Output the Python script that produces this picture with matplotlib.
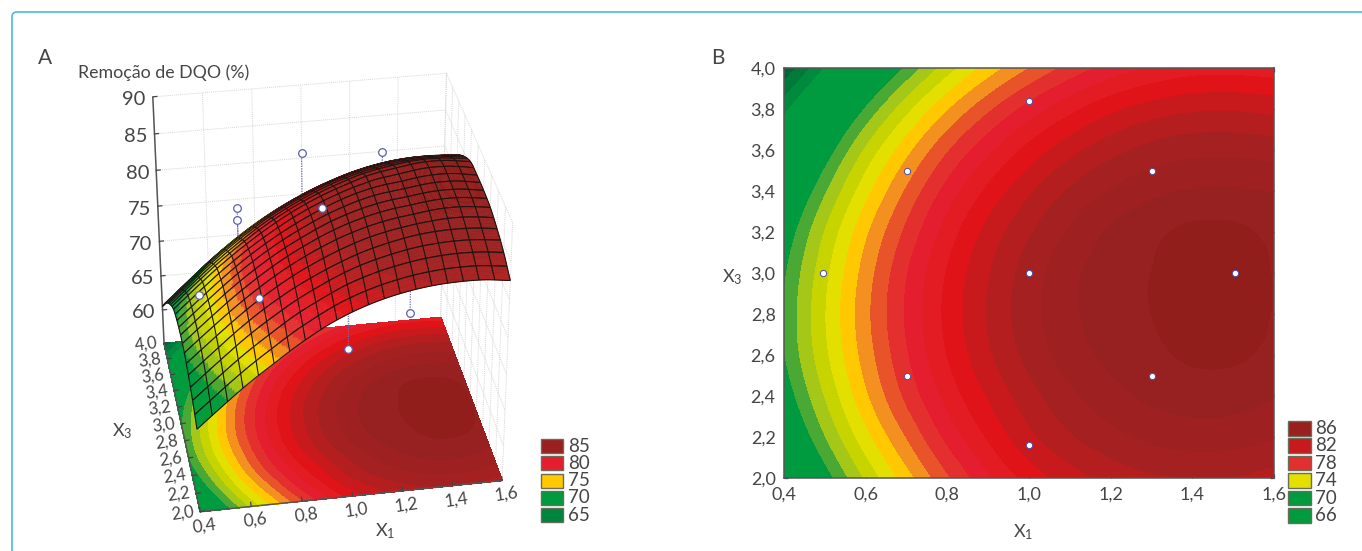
import numpy as np
import matplotlib
matplotlib.use("Agg")
import matplotlib.pyplot as plt
import matplotlib.tri as mtri
from matplotlib.collections import PolyCollection, LineCollection
from matplotlib.patches import Rectangle, FancyBboxPatch

plt.rcParams['font.family'] = ['Lato', 'DejaVu Sans']
plt.rcParams['mathtext.default'] = 'regular'
TXT = '#454545'

# ---- data -----------------------------------------------------------------
x1_values = [0.4, 0.5, 0.6, 0.7, 0.8, 0.9, 1.0, 1.1, 1.2, 1.3, 1.4, 1.5, 1.6]
x3_values = [2.0, 2.2, 2.4, 2.6, 2.8, 3.0, 3.2, 3.4, 3.6, 3.8, 4.0]
z_x3_20 = [66.6, 69.4, 72.1, 74.5, 76.8, 78.8, 80.35, 81.5, 82.3, 82.8, 83.0, 82.95, 82.55]
z_x3_22 = [68.1, 70.9, 73.6, 76.0, 78.25, 80.1, 81.7, 82.85, 83.65, 84.2, 84.45, 84.4, 84.05]
z_x3_24 = [69.2, 72.0, 74.75, 77.2, 79.3, 81.05, 82.55, 83.75, 84.6, 85.2, 85.45, 85.4, 85.05]
z_x3_26 = [69.9, 72.7, 75.4, 77.85, 80.0, 81.8, 83.3, 84.45, 85.25, 85.75, 86.15, 86.15, 85.75]
z_x3_28 = [70.05, 72.9, 75.65, 78.1, 80.25, 82.05, 83.6, 84.75, 85.55, 86.0, 86.4, 86.4, 85.95]
z_x3_30 = [69.8, 72.65, 75.4, 77.9, 80.05, 81.9, 83.45, 84.7, 85.55, 86.0, 86.45, 86.45, 85.95]
z_x3_32 = [69.1, 72.0, 74.75, 77.2, 79.4, 81.3, 82.85, 84.1, 85.15, 85.75, 86.2, 86.2, 85.75]
z_x3_34 = [67.9, 70.8, 73.6, 76.1, 78.35, 80.2, 81.8, 83.1, 84.05, 84.7, 85.05, 85.1, 84.9]
z_x3_36 = [66.3, 69.2, 72.1, 74.6, 76.85, 78.7, 80.3, 81.6, 82.6, 83.3, 83.65, 83.7, 83.5]
z_x3_38 = [64.3, 67.2, 70.05, 72.6, 74.85, 76.75, 78.35, 79.65, 80.7, 81.4, 81.8, 81.85, 81.65]
z_x3_40 = [61.8, 64.7, 67.6, 70.15, 72.45, 74.35, 75.95, 77.3, 78.35, 79.05, 79.5, 79.55, 79.4]
# panel A's surface sits slightly lower than the table towards the back
surface_a_shift = [0, 0, 0, 0, 0, 0, 0, -0.4, -0.8, -1.1, -1.3]

band_levels = [62.7, 63.7, 64.7, 70, 71, 72, 73, 74, 75, 76, 77, 78, 79, 80, 81, 82, 83, 84, 85, 86]
band_colors = ['#006837', '#007a3a', '#008a3d', '#009b3e', '#4aa835', '#a5c818', '#c8d400', '#e3e000',
               '#ffc800', '#f39020', '#e9532a', '#e42f2f', '#e41e2e', '#e31b23', '#e01318', '#c8191c',
               '#b51e1e', '#a52020', '#9e2020', '#972020', '#921e1c']

design_x1 = [0.495, 0.7, 0.7, 1.0, 1.0, 1.0, 1.3, 1.3, 1.505]
design_x3 = [3.0, 3.5, 2.5, 3.84, 3.0, 2.16, 3.5, 2.5, 3.0]

pts_above_x1 = [0.69, 0.69, 0.985, 1.28, 0.985, 0.49, 0.69]
pts_above_x3 = [3.5, 3.5, 3.84, 3.5, 3.0, 3.0, 2.5]
pts_above_z = [79.0, 77.4, 82.3, 85.0, 83.4, 73.0, 77.6]
pts_below_x1 = [1.28, 1.0]
pts_below_x3 = [2.5, 2.16]
pts_below_z = [73.7, 73.5]

ticks_x1 = [0.4, 0.6, 0.8, 1.0, 1.2, 1.4, 1.6]
labels_x1 = ['0,4', '0,6', '0,8', '1,0', '1,2', '1,4', '1,6']
ticks_x3 = [2.0, 2.2, 2.4, 2.6, 2.8, 3.0, 3.2, 3.4, 3.6, 3.8, 4.0]
labels_x3 = ['2,0', '2,2', '2,4', '2,6', '2,8', '3,0', '3,2', '3,4', '3,6', '3,8', '4,0']
ticks_z = [60, 65, 70, 75, 80, 85, 90]
legend_a = ['85', '80', '75', '70', '65']
legend_a_colors = ['#9a1f1f', '#e41e2e', '#ffc800', '#009b3e', '#00853f']
legend_b = ['86', '82', '78', '74', '70', '66']
legend_b_colors = ['#9a1f1f', '#c8191c', '#e42f2f', '#e3e000', '#009b3e', '#009b3e']

# ---- projection of panel A, calibrated on the box corners ------------------
Z_FLOOR, Z_TOP = 55.0, 90.0
calib_data = [(0.4, 2, Z_FLOOR), (1.6, 2, Z_FLOOR), (1.6, 4, Z_FLOOR), (0.4, 4, Z_FLOOR),
              (0.4, 4, Z_TOP), (1.6, 4, Z_TOP), (1.6, 2, Z_TOP)]
calib_px = [(200, 512), (502, 480), (441, 318), (164, 343), (153, 97), (446, 73), (513, 223)]
A_rows = []
for (a, b, c), (u, v) in zip(calib_data, calib_px):
    A_rows.append([a, b, c, 1, 0, 0, 0, 0, -u * a, -u * b, -u * c, -u])
    A_rows.append([0, 0, 0, 0, a, b, c, 1, -v * a, -v * b, -v * c, -v])
P = np.linalg.svd(np.array(A_rows, float))[2][-1].reshape(3, 4)


def proj(a, b, c):
    a, b, c = np.asarray(a, float), np.asarray(b, float), np.asarray(c, float)
    w = P[2, 0] * a + P[2, 1] * b + P[2, 2] * c + P[2, 3]
    return (P[0, 0] * a + P[0, 1] * b + P[0, 2] * c + P[0, 3]) / w, (P[1, 0] * a + P[1, 1] * b + P[1, 2] * c + P[1, 3]) / w


x1 = np.array(x1_values)
x3 = np.array(x3_values)
Z = np.array([z_x3_20, z_x3_22, z_x3_24, z_x3_26, z_x3_28, z_x3_30, z_x3_32, z_x3_34, z_x3_36, z_x3_38, z_x3_40])
GX, GY = np.meshgrid(x1, x3)
tri = mtri.Triangulation(GX.ravel(), GY.ravel())
table = mtri.CubicTriInterpolator(tri, Z.ravel(), kind='geom')
table_a = mtri.CubicTriInterpolator(tri, (Z + np.array(surface_a_shift)[:, None]).ravel(), kind='geom')
plot_levels = [50] + band_levels + [95]

# fine evaluation of the table, only so that the bands are drawn smoothly
FU, FV = np.meshgrid(np.linspace(0.4, 1.6, 241), np.linspace(2.0, 4.0, 201))
FZ = np.asarray(table(FU, FV).filled(np.nan))


def filled(ax, X, Y, C, zorder=2):
    cs = ax.contourf(X, Y, C, levels=plot_levels, colors=band_colors, zorder=zorder)
    cs.set_edgecolor('face')
    cs.set_linewidth(0.5)
    return cs


fig = plt.figure(figsize=(13.62, 5.51), dpi=100)
ov = fig.add_axes([0, 0, 1, 1])
ov.set_xlim(0, 1362)
ov.set_ylim(551, 0)
ov.axis('off')

# frame of the figure
ov.add_patch(FancyBboxPatch((12, 12), 1400, 600, boxstyle='round,pad=0,rounding_size=5', fill=False,
                            ec='#4fb8dc', lw=1.2, zorder=0))

# ---- panel A ---------------------------------------------------------------
wall_kw = dict(color='#d6d6d6', lw=0.7, ls=(0, (1, 1)), zorder=1)
for t in ticks_x1:
    ov.plot(*proj([t, t], [4, 4], [Z_FLOOR, Z_TOP]), **wall_kw)
for z in ticks_z:
    ov.plot(*proj([0.4, 1.6], [4, 4], [z, z]), **wall_kw)
    ov.plot(*proj([1.6, 1.6], [4, 2], [z, z]), **wall_kw)
for t in ticks_x3:
    ov.plot(*proj([1.6, 1.6], [t, t], [Z_FLOOR, Z_TOP]), **wall_kw)

# floor contours
FX, FY = proj(FU, FV, np.full_like(FU, Z_FLOOR))
filled(ov, FX, FY, FZ)

# stems (behind the surface)
stem_kw = dict(color='#6a6db5', lw=0.9, ls=(0, (1, 1)), zorder=3)
for a, b, c in zip(pts_above_x1 + pts_below_x1, pts_above_x3 + pts_below_x3, pts_above_z + pts_below_z):
    ov.plot(*proj([a, a], [b, b], [c, float(table_a(a, b))]), **stem_kw)
mk = dict(ls='none', marker='o', mfc='white', mec='#5a5fb0', ms=5.5, mew=0.9)
ov.plot(*proj(pts_below_x1, pts_below_x3, pts_below_z), zorder=4, **mk)

# surface, painted from the far strip to the near one
N_CELLS, SUB = 20, 8
u_f = np.linspace(0.4, 1.6, N_CELLS * SUB + 1)
v_f = np.linspace(2.0, 4.0, N_CELLS * SUB + 1)
UU, VV = np.meshgrid(u_f, v_f)
ZZ = np.asarray(table_a(UU, VV).filled(np.nan))
SX, SY = proj(UU, VV, ZZ)
centre = (ZZ[:-1, :-1] + ZZ[1:, :-1] + ZZ[:-1, 1:] + ZZ[1:, 1:]) / 4
idx = np.digitize(centre, band_levels)
zo = 10
for strip in range(N_CELLS - 1, -1, -1):
    polys, cols = [], []
    for r in range((strip + 1) * SUB - 1, strip * SUB - 1, -1):
        for c in range(N_CELLS * SUB):
            polys.append([(SX[r, c], SY[r, c]), (SX[r, c + 1], SY[r, c + 1]),
                          (SX[r + 1, c + 1], SY[r + 1, c + 1]), (SX[r + 1, c], SY[r + 1, c])])
            cols.append(band_colors[idx[r, c]])
    ov.add_collection(PolyCollection(polys, facecolors=cols, edgecolors=cols, linewidths=0.35, zorder=zo))
    segs = []
    r0, r1 = strip * SUB, (strip + 1) * SUB
    for c in range(0, N_CELLS * SUB + 1, SUB):
        segs.append(np.column_stack([SX[r0:r1 + 1, c], SY[r0:r1 + 1, c]]))
    segs.append(np.column_stack([SX[r0], SY[r0]]))
    segs.append(np.column_stack([SX[r1], SY[r1]]))
    ov.add_collection(LineCollection(segs, colors='#1c1410', linewidths=0.8, zorder=zo + 0.5))
    zo += 1

ov.plot(*proj(pts_above_x1, pts_above_x3, pts_above_z), zorder=100, **mk)

# axes of the box
ax_kw = dict(color='#555555', lw=1.1, zorder=9, solid_capstyle='butt')
ov.plot(*proj([0.4, 0.4], [4, 4], [Z_FLOOR, Z_TOP]), **ax_kw)
ov.plot(*proj([0.4, 0.4], [4, 2], [Z_FLOOR, Z_FLOOR]), **ax_kw)
ov.plot(*proj([0.4, 1.6], [2, 2], [Z_FLOOR, Z_FLOOR]), **ax_kw)
for z in ticks_z:
    px, py = proj(0.4, 4, z)
    ov.plot([px, px + 4], [py, py - 0.4], color='#444444', lw=0.9, zorder=9)
    ov.text(px - 7, py + 3, str(z), ha='right', va='center', fontsize=14.5, color=TXT)
for t, s in zip(ticks_x3, labels_x3):
    px, py = proj(0.4, t, Z_FLOOR)
    ov.plot([px, px + 4], [py, py - 0.6], color='#444444', lw=0.9, zorder=9)
    ov.text(px - 18, py + 1, s, ha='center', va='center', fontsize=12, color=TXT, rotation=8)
for t, s in zip(ticks_x1, labels_x1):
    px, py = proj(t, 2, Z_FLOOR)
    ov.plot([px, px - 0.5], [py, py - 4], color='#444444', lw=0.9, zorder=9)
    ov.text(px + 4, py + 14, s, ha='center', va='center', fontsize=12.5, color=TXT, rotation=8)

ov.text(38, 58, 'A', fontsize=15, color=TXT, va='center')
ov.text(78, 73, 'Remoção de DQO (%)', fontsize=12.8, color=TXT, va='center')
ov.text(122, 431, 'X$_3$', fontsize=13, color=TXT, ha='center', va='center')
ov.text(385, 531, 'X$_1$', fontsize=13, color=TXT, ha='center', va='center')
ov.text(711, 58, 'B', fontsize=15, color=TXT, va='center')
ov.text(1023, 532, 'X$_1$', fontsize=13, color=TXT, ha='center', va='center')
ov.text(732, 277, 'X$_3$', fontsize=13, color=TXT, ha='center', va='center')

# legends
for i, (s, col) in enumerate(zip(legend_a, legend_a_colors)):
    y = 439 + i * 17.3
    ov.add_patch(Rectangle((541, y), 22, 14, fc=col, ec='#6b6b5a', lw=1))
    ov.text(568, y + 7, s, fontsize=13.5, color=TXT, va='center')
for i, (s, col) in enumerate(zip(legend_b, legend_b_colors)):
    y = 421 + i * 17.4
    ov.add_patch(Rectangle((1288, y), 23, 14.5, fc=col, ec='#6b6b5a', lw=1))
    ov.text(1315, y + 7.5, s, fontsize=13.5, color=TXT, va='center')

# ---- panel B ---------------------------------------------------------------
axb = fig.add_axes([784 / 1362, 1 - 478 / 551, 490 / 1362, 410 / 551])
filled(axb, FU, FV, FZ)
axb.plot(design_x1, design_x3, ls='none', marker='o', mfc='white', mec='#4a4fa8', ms=4.5, mew=0.7)
axb.set_xlim(0.4, 1.6)
axb.set_ylim(2.0, 4.0)
axb.set_xticks(ticks_x1, labels_x1, fontsize=13, color=TXT)
axb.set_yticks(ticks_x3, labels_x3, fontsize=13, color=TXT)
axb.tick_params(direction='in', length=3, width=0.9, top=True, right=True, color='#333333', pad=6)
for s in axb.spines.values():
    s.set_color('#555555')
    s.set_linewidth(1.1)

fig.savefig('out.png', dpi=100)
